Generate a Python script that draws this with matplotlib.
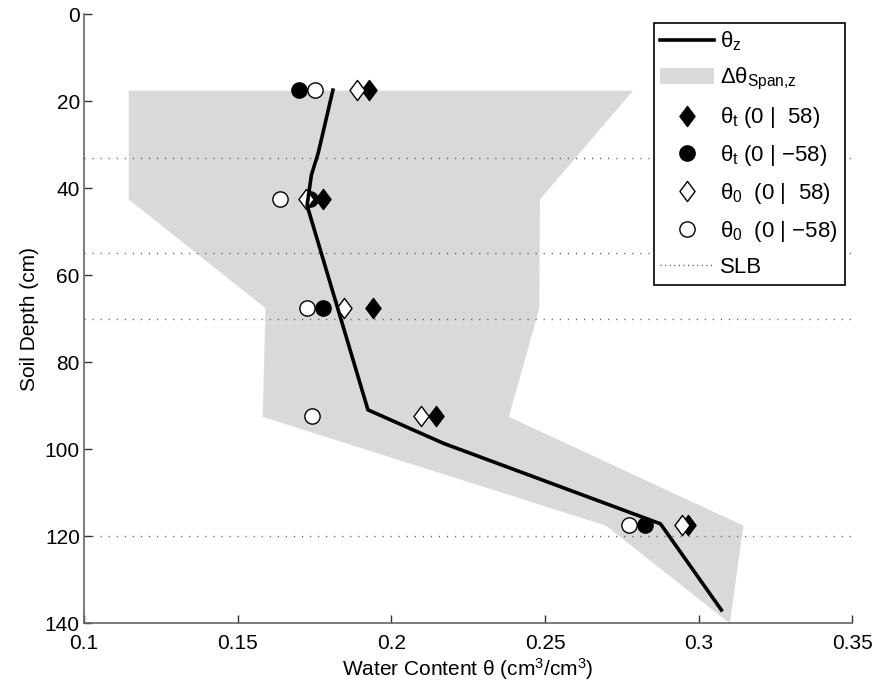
import numpy as np
import matplotlib
matplotlib.use("Agg")
import matplotlib.pyplot as plt
from matplotlib.path import Path
from matplotlib.patches import Patch
from matplotlib.lines import Line2D

plt.rcParams["font.family"] = ["Liberation Sans", "DejaVu Sans"]
plt.rcParams["mathtext.fontset"] = "custom"
plt.rcParams["mathtext.rm"] = "Liberation Sans"
plt.rcParams["mathtext.it"] = "Liberation Sans"
plt.rcParams["mathtext.bf"] = "Liberation Sans"

# measurement depths (cm)
depth = [17.5, 42.5, 67.5, 92.5, 117.5]
theta_t_pos = [0.1929, 0.1777, 0.1939, 0.2146, 0.2967]    # filled diamond
theta_t_neg = [0.1701, 0.1736, 0.1779, np.nan, 0.2824]    # filled circle (not shown at 92.5)
theta_0_pos = [0.1890, 0.1723, 0.1846, 0.2096, 0.2946]    # open diamond
theta_0_neg = [0.1753, 0.1638, 0.1725, 0.1741, 0.2774]    # open circle

# profile line theta_z
z_line = [17.5, 32.0, 37.0, 44.0, 91.0, 98.7, 117.2, 137.0]
theta_z = [0.1810, 0.1762, 0.1740, 0.1726, 0.1924, 0.2170, 0.2876, 0.3074]

# span envelope
span_z = [17.5, 42.5, 67.5, 92.5, 117.5, 140.0]
span_lo = [0.1144, 0.1144, 0.1589, 0.1580, 0.2697, 0.3100]
span_hi = [0.2785, 0.2482, 0.2480, 0.2381, 0.3144, 0.3100]

slb = [33, 55, 70, 120]

diamond = Path([(0, 1), (0.75, 0), (0, -1), (-0.75, 0), (0, 1)],
               [Path.MOVETO, Path.LINETO, Path.LINETO, Path.LINETO, Path.CLOSEPOLY])

fig = plt.figure(figsize=(8.75, 6.85), dpi=100)
ax = fig.add_axes([0.096, 0.0905, 0.878, 0.889])

ax.fill_betweenx(span_z, span_lo, span_hi, color="#d9d9d9", lw=0, zorder=1)
for d in slb:
    ax.axhline(d, color="#555555", lw=1, ls=(0, (0.8, 5)), zorder=1.5)

ms_c, ms_d = 11, 14.5
ax.plot(theta_0_neg, depth, "o", ms=ms_c, mfc="white", mec="black", mew=1, zorder=2)
ax.plot(theta_t_pos, depth, ls="none", marker=diamond, ms=ms_d, mfc="black", mec="black", mew=1, zorder=2)
ax.plot(theta_t_neg, depth, "o", ms=ms_c, mfc="black", mec="black", mew=1, zorder=3)
ax.plot(theta_0_pos, depth, ls="none", marker=diamond, ms=ms_d, mfc="white", mec="black", mew=1, zorder=4)
ax.plot(theta_z, z_line, color="black", lw=2.6, zorder=5)

ax.set_xlim(0.1, 0.35)
ax.set_ylim(140, 0)
ax.set_xticks([0.1, 0.15, 0.2, 0.25, 0.3, 0.35])
ax.set_xticklabels(["0.1", "0.15", "0.2", "0.25", "0.3", "0.35"])
ax.set_yticks(np.arange(0, 141, 20))
for s in ["top", "right"]:
    ax.spines[s].set_visible(False)
for s in ["left", "bottom"]:
    ax.spines[s].set_color("#666666")
    ax.spines[s].set_linewidth(1.2)
ax.tick_params(direction="in", length=6, width=1, labelsize=15, color="#333333")
ax.tick_params(axis="x", pad=8)
ax.tick_params(axis="y", pad=3)
ax.set_xlabel(r"Water Content $\theta$ (cm$^3$/cm$^3$)", fontsize=15, labelpad=2)
ax.set_ylabel("Soil Depth (cm)", fontsize=15, labelpad=4)

handles = [
    Line2D([], [], color="black", lw=2.6),
    Patch(facecolor="#d9d9d9", edgecolor="none"),
    Line2D([], [], ls="none", marker=diamond, ms=ms_d, mfc="black", mec="black"),
    Line2D([], [], ls="none", marker="o", ms=ms_c, mfc="black", mec="black"),
    Line2D([], [], ls="none", marker=diamond, ms=ms_d, mfc="white", mec="black"),
    Line2D([], [], ls="none", marker="o", ms=ms_c, mfc="white", mec="black"),
    Line2D([], [], color="#555555", lw=1, ls=(0, (0.8, 2.5))),
]
labels = [r"$\theta_z$", r"$\Delta\theta_{\mathrm{Span{,}z}}$",
          r"$\theta_t$ (0 |  58)", r"$\theta_t$ (0 | $-$58)",
          r"$\theta_0$  (0 |  58)", r"$\theta_0$  (0 | $-$58)", "SLB"]
leg = ax.legend(handles, labels, loc="upper right", bbox_to_anchor=(0.99, 0.985),
                fontsize=16, frameon=True, fancybox=False, framealpha=1,
                edgecolor="black", borderaxespad=0, handlelength=2.4,
                handletextpad=0.3, labelspacing=0.58, borderpad=0.3)
leg.get_frame().set_linewidth(1.2)
leg.set_zorder(10)

fig.savefig("out.png", dpi=100)
